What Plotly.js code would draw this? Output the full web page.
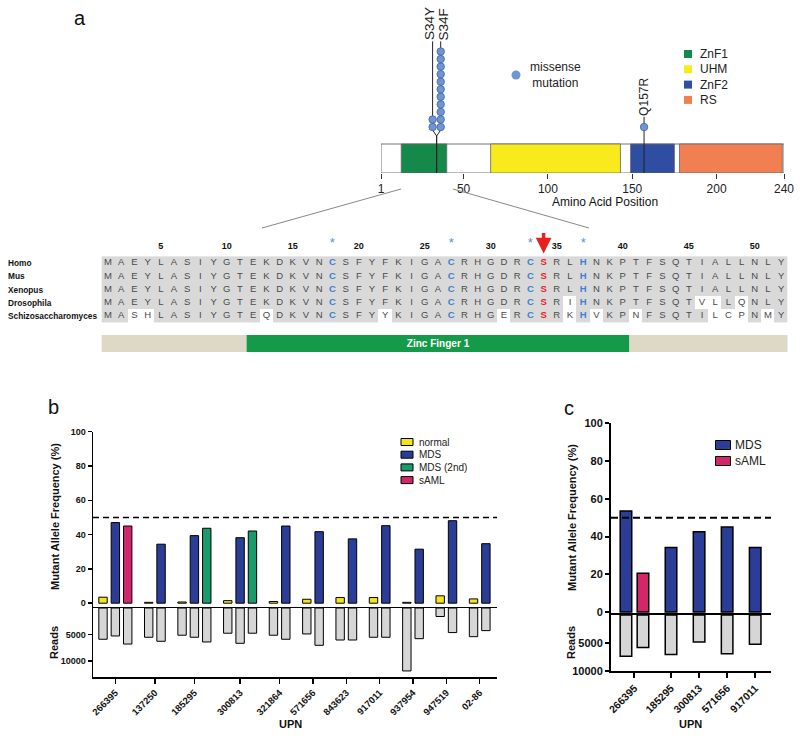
<!DOCTYPE html>
<html><head><meta charset="utf-8">
<script src="https://cdn.plot.ly/plotly-3.0.1.min.js"></script>
<style>html,body{margin:0;padding:0;background:#fff}#chart{width:800px;height:738px}</style>
</head><body><div id="chart"></div>
<script>
// ================= DATA =================
// Panel a: protein domains
const domainNames = ['ZnF1', 'UHM', 'ZnF2', 'RS'];
const domainStart = [13, 66, 149, 178];
const domainEnd = [40, 143, 175, 239];
const proteinStart = 1, proteinEnd = 240;
const aaTicks = [1, 50, 100, 150, 200, 240];
// Panel a: missense mutations
const mutLabels = ['S34Y', 'S34F', 'Q157R'];
const mutPos = [34, 34, 157];
const mutCount = [2, 11, 1];
// Panel a: alignment
const species = ['Homo', 'Mus', 'Xenopus', 'Drosophila', 'Schizosaccharomyces'];
const sequences = [
  'MAEYLASIYGTEKDKVNCSFYFKIGACRHGDRCSRLHNKPTFSQTIALLNLY',
  'MAEYLASIYGTEKDKVNCSFYFKIGACRHGDRCSRLHNKPTFSQTIALLNLY',
  'MAEYLASIYGTEKDKVNCSFYFKIGACRHGDRCSRLHNKPTFSQTIALLNLY',
  'MAEYLASIYGTEKDKVNCSFYFKIGACRHGDRCSRIHNKPTFSQTVLLQNLY',
  'MASHLASIYGTEQDKVNCSFYYKIGACRHGERCSRKHVKPNFSQTILCPNMY'
];
const seqTicks = [5, 10, 15, 20, 25, 30, 35, 40, 45, 50];
const zincLigands = [18, 27, 33, 37];
const mutatedResidue = 34;
const zincFinger = [12, 40];
const zincFingerLabel = 'Zinc Finger 1';

// Panel b
const upnB = ['266395', '137250', '185295', '300813', '321864', '571656', '843623', '917011', '937954', '947519', '02-86'];
const seriesB = ['normal', 'MDS', 'MDS (2nd)', 'sAML'];
const mafNormal = [3.5, 0.5, 0.7, 1.5, 1.0, 2.3, 3.3, 3.3, 0.5, 4.3, 2.5];
const mafMDS    = [47.0, 34.4, 39.4, 38.2, 45.0, 41.7, 37.5, 45.2, 31.5, 48.1, 34.7];
const mafMDS2   = [null, null, 43.7, 42.1, null, null, null, null, null, null, null];
const mafSAML   = [45.0, null, null, null, null, null, null, null, null, null, null];
const readsNormal = [5890, 5510, 5130, 4750, 5130, 4890, 6030, 5510, 11860, 1600, 5400];
const readsMDS    = [5270, 6270, 5510, 6650, 5890, 7030, 6030, 5510, 5780, 4630, 4260];
const readsMDS2   = [null, null, 6400, 4750, null, null, null, null, null, null, null];
const readsSAML   = [6790, null, null, null, null, null, null, null, null, null, null];
const readsTicksB = [5000, 10000];

// Panel c
const upnC = ['266395', '185295', '300813', '571656', '917011'];
const seriesC = ['MDS', 'sAML'];
const mafC_MDS  = [53.5, 34.2, 42.5, 45.0, 34.2];
const mafC_SAML = [20.5, null, null, null, null];
const readsC_MDS  = [7350, 7050, 4820, 6900, 5230];
const readsC_SAML = [5800, null, null, null, null];
const readsTicksC = [5000, 10000];

const mafTicks = [0, 20, 40, 60, 80, 100];
const threshold = 50;

// ================= STYLE =================
const FONT = 'Liberation Sans, Arial, Helvetica, sans-serif';
const W = 800, H = 738;
const px = v => v / W, py = v => 1 - v / H;
const domainColors = ['#14894a', '#f8ea1d', '#2f4ea3', '#f27f52'];
const seriesColors = {'normal': '#f4e51b', 'MDS': '#2b3d97', 'MDS (2nd)': '#1a9b6a', 'sAML': '#d3276b'};
const readsColor = '#d6d6d6';
const mutColor = '#6f95d2';
const ligandColor = '#3f7fd0';
const redColor = '#e8211d';

const traces = [];
const shapes = [];
const annotations = [];

// ---------- helper: group bar positions ----------
function layoutGroups(seriesList, gap) {
  const n = seriesList[0].length;
  const pos = seriesList.map(() => new Array(n).fill(null));
  const centers = [];
  let p = 0;
  for (let i = 0; i < n; i++) {
    const start = p;
    seriesList.forEach((s, k) => { if (s[i] !== null) { pos[k][i] = p; p += 1; } });
    centers.push((start + p - 1) / 2);
    p += gap;
  }
  return {pos, centers};
}

function addBars(mafList, readsList, names, groups, xa, ya, xa2, ya2, lw) {
  mafList.forEach((vals, k) => {
    const xs = [], ys = [], rs = [];
    vals.forEach((v, i) => { if (v !== null) { xs.push(groups.pos[k][i]); ys.push(v); rs.push(readsList[k][i]); } });
    traces.push({type: 'bar', x: xs, y: ys, width: 0.68, xaxis: xa, yaxis: ya, showlegend: false,
      marker: {color: seriesColors[names[k]], line: {color: '#000', width: lw}}});
    traces.push({type: 'bar', x: xs, y: rs, width: 0.68, xaxis: xa2, yaxis: ya2, showlegend: false,
      marker: {color: readsColor, line: {color: '#000', width: lw}}});
  });
}

// ---------- Panel b ----------
const gB = layoutGroups([mafNormal, mafMDS, mafMDS2, mafSAML], 0.7);
addBars([mafNormal, mafMDS, mafMDS2, mafSAML], [readsNormal, readsMDS, readsMDS2, readsSAML], seriesB, gB, 'x', 'y', 'x2', 'y2', 1);

// ---------- Panel c ----------
const gC = layoutGroups([mafC_MDS, mafC_SAML], 0.65);
addBars([mafC_MDS, mafC_SAML], [readsC_MDS, readsC_SAML], seriesC, gC, 'x3', 'y3', 'x4', 'y4', 1.5);

// threshold lines
shapes.push({type: 'line', xref: 'x domain', yref: 'y', x0: 0, x1: 1, y0: threshold, y1: threshold, line: {color: '#000', width: 1.5, dash: '6px,4px'}});
shapes.push({type: 'line', xref: 'x3 domain', yref: 'y3', x0: 0, x1: 1, y0: threshold, y1: threshold, line: {color: '#000', width: 2, dash: '7px,4px'}});

// ---------- Panel a: domain diagram ----------
const unit = 7.55;             // px per stacked circle
const boxH = 29 / unit;
const yc = boxH / 2;
traces.push({type: 'bar', orientation: 'h', y: [yc], x: [proteinEnd - proteinStart], base: [proteinStart], width: boxH,
  xaxis: 'x5', yaxis: 'y5', showlegend: false, marker: {color: '#fff', line: {color: '#777', width: 1}}});
traces.push({type: 'bar', orientation: 'h', y: domainNames.map(() => yc), x: domainStart.map((s, i) => domainEnd[i] - s), base: domainStart,
  width: boxH, xaxis: 'x5', yaxis: 'y5', showlegend: false, marker: {color: domainColors, line: {color: '#666', width: 0.8}}});

const forkLow = 4.9, forkHigh = 5.7, firstCircle = 6.09;
mutLabels.forEach((lab, i) => {
  const same = mutPos.map((p, j) => p === mutPos[i] ? j : -1).filter(j => j >= 0);
  const maxC = Math.max(...same.map(j => mutCount[j]));
  const top = firstCircle + maxC - 1 + 1.35;
  let off = 0;
  if (same.length > 1) off = (same.indexOf(i) - (same.length - 1) / 2) * 4.8;
  const lx = off === 0 ? [mutPos[i], mutPos[i]] : [mutPos[i], mutPos[i], mutPos[i] + off, mutPos[i] + off];
  const ly = off === 0 ? [0, top] : [0, forkLow, forkHigh, top];
  traces.push({type: 'scatter', mode: 'lines', x: lx, y: ly, xaxis: 'x5', yaxis: 'y5', showlegend: false,
    line: {color: '#222', width: 1}, cliponaxis: false});
  const cx = [], cy = [];
  for (let k = 0; k < mutCount[i]; k++) { cx.push(mutPos[i] + off); cy.push(firstCircle + k); }
  traces.push({type: 'scatter', mode: 'markers', x: cx, y: cy, xaxis: 'x5', yaxis: 'y5', showlegend: false,
    marker: {size: 7.5, color: mutColor, line: {color: '#44639f', width: 0.8}}, cliponaxis: false});
  annotations.push({xref: 'x5', yref: 'y5', x: mutPos[i] + off, y: top, text: lab, textangle: -90, showarrow: false,
    xshift: Math.sign(off) * 2.5,
    xanchor: 'center', yanchor: 'bottom', font: {family: FONT, size: same.length > 1 ? 13.5 : 12, color: '#222'}, borderpad: 0});
});

// ---------- Panel a: alignment ----------
const zAl = sequences.map(s => s.split('').map((c, j) => c === sequences[0][j] ? 1 : 0));
const colIdx = sequences[0].split('').map((c, j) => j + 1);
traces.push({type: 'heatmap', z: zAl, x: colIdx, y: species.map((s, i) => i), xaxis: 'x6', yaxis: 'y6',
  colorscale: [[0, '#ffffff'], [1, '#d9d9d9']], zmin: 0, zmax: 1, showscale: false, hoverinfo: 'skip'});

const letterSets = {normal: {x: [], y: [], t: []}, blue: {x: [], y: [], t: []}, red: {x: [], y: [], t: []}};
sequences.forEach((s, r) => s.split('').forEach((c, j) => {
  const col = j + 1;
  const key = col === mutatedResidue ? 'red' : (zincLigands.includes(col) ? 'blue' : 'normal');
  letterSets[key].x.push(col); letterSets[key].y.push(r); letterSets[key].t.push(c);
}));
const letterStyle = {normal: {color: '#4a4a4a', weight: 'normal'}, blue: {color: ligandColor, weight: 'bold'}, red: {color: redColor, weight: 'bold'}};
Object.keys(letterSets).forEach(k => {
  traces.push({type: 'scatter', mode: 'text', x: letterSets[k].x, y: letterSets[k].y, text: letterSets[k].t,
    xaxis: 'x6', yaxis: 'y6', showlegend: false, cliponaxis: false, hoverinfo: 'skip',
    textfont: {family: FONT, size: 9.5, color: letterStyle[k].color, weight: letterStyle[k].weight}});
});
// position numbers and stars
traces.push({type: 'scatter', mode: 'text', x: seqTicks, y: seqTicks.map(() => -1.2), text: seqTicks.map(String),
  xaxis: 'x6', yaxis: 'y6', showlegend: false, cliponaxis: false,
  textfont: {family: FONT, size: 9, color: '#111', weight: 'bold'}});
traces.push({type: 'scatter', mode: 'text', x: zincLigands, y: zincLigands.map(() => -1.45), text: zincLigands.map(() => '*'),
  xaxis: 'x6', yaxis: 'y6', showlegend: false, cliponaxis: false,
  textfont: {family: FONT, size: 13, color: '#5a8fd8'}});
annotations.push({xref: 'x6', yref: 'y6', x: mutatedResidue, y: -0.72, ax: 0, ay: -22, showarrow: true,
  arrowhead: 2, arrowsize: 0.9, arrowwidth: 3.5, arrowcolor: redColor, text: ''});
// zinc finger bar
const seqLen = sequences[0].length;
traces.push({type: 'bar', orientation: 'h', y: [6.08, 6.08, 6.08],
  base: [0.5, zincFinger[0] - 0.5, zincFinger[1] + 0.5],
  x: [zincFinger[0] - 1, zincFinger[1] - zincFinger[0] + 1, seqLen - zincFinger[1]],
  width: 1.28, xaxis: 'x6', yaxis: 'y6', showlegend: false,
  marker: {color: ['#ddd9c6', '#149a48', '#ddd9c6'], line: {width: 0}},
  text: ['', zincFingerLabel, ''], textposition: 'inside', insidetextanchor: 'middle',
  textfont: {family: FONT, size: 11, color: '#fff', weight: 'bold'}});
// species labels
species.forEach((s, i) => annotations.push({xref: 'paper', yref: 'y6', x: px(6), y: i, text: s, showarrow: false,
  xanchor: 'left', yanchor: 'middle', font: {family: FONT, size: 8.3, color: '#111', weight: 'bold'}}));

// connectors from domain to alignment
shapes.push({type: 'line', xref: 'paper', yref: 'paper', x0: px(401), y0: py(189), x1: px(262), y1: py(228), line: {color: '#888', width: 1}});
shapes.push({type: 'line', xref: 'paper', yref: 'paper', x0: px(453), y0: py(189), x1: px(589), y1: py(228), line: {color: '#888', width: 1}});

// ---------- legends (manual) ----------
function legendRows(names, colors, x, y0, dy, bw, bh, textX, fs, outline, shape) {
  names.forEach((n, i) => {
    const yy = y0 + i * dy;
    shapes.push({type: shape || 'rect', xref: 'paper', yref: 'paper', x0: px(x - bw / 2), x1: px(x + bw / 2), y0: py(yy - bh / 2), y1: py(yy + bh / 2),
      fillcolor: colors[i], line: {color: outline ? '#000' : colors[i], width: outline ? 1 : 0}});
    annotations.push({xref: 'paper', yref: 'paper', x: px(textX), y: py(yy), text: n, showarrow: false, xanchor: 'left', yanchor: 'middle',
      font: {family: FONT, size: fs, color: '#222'}});
  });
}
legendRows(domainNames, domainColors, 688, 54, 15.3, 8, 8, 698, 12, false);
legendRows(['missense<br>mutation'], [mutColor], 516, 75, 0, 9, 9, 528, 12, false, 'circle');
legendRows(seriesB, seriesB.map(s => seriesColors[s]), 407, 442, 12.7, 12, 7, 417, 10, true);
legendRows(seriesC, seriesC.map(s => seriesColors[s]), 723, 445, 16, 15, 9, 733, 12, true);

// ---------- titles / panel letters ----------
function txt(x, y, t, fs, opts) {
  annotations.push(Object.assign({xref: 'paper', yref: 'paper', x: px(x), y: py(y), text: t, showarrow: false,
    xanchor: 'center', yanchor: 'middle', font: {family: FONT, size: fs, color: '#111'}}, opts || {}));
}
txt(80, 18, 'a', 20);
txt(53, 407, 'b', 20);
txt(569, 408, 'c', 20);
txt(605, 202, 'Amino Acid Position', 12);
const boldF = s => ({family: FONT, size: s, color: '#111', weight: 'bold'});
txt(55, 517, 'Mutant Allele Frequency (%)', 11, {textangle: -90, font: boldF(11)});
txt(54, 643, 'Reads', 11, {textangle: -90, font: boldF(11)});
txt(290, 724, 'UPN', 11, {font: boldF(11)});
txt(572, 518, 'Mutant Allele Frequency (%)', 11, {textangle: -90, font: boldF(11)});
txt(571, 643, 'Reads', 11, {textangle: -90, font: boldF(11)});
txt(690, 724, 'UPN', 11, {font: boldF(11)});

// ---------- axes ----------
const base = {showgrid: false, zeroline: false, color: '#000'};
const yMAF = (fs, lw) => Object.assign({}, base, {showline: true, linewidth: lw, linecolor: '#000', ticks: 'outside', ticklen: 4, tickwidth: lw,
  tickvals: mafTicks, ticktext: mafTicks.map(String), tickfont: {family: FONT, size: fs, color: '#111', weight: 'bold'}});
const yReads = (fs, lw, rng, tv) => Object.assign({}, base, {showline: true, linewidth: lw, linecolor: '#000', ticks: 'outside', ticklen: 4, tickwidth: lw,
  range: rng, tickvals: tv, ticktext: tv.map(String), tickfont: {family: FONT, size: fs, color: '#111', weight: 'bold'}});
const xCat = (fs, lw, rng, dom, centers, labels, anchor) => Object.assign({}, base, {domain: dom, range: rng, anchor: anchor,
  showline: true, mirror: true, linewidth: lw, linecolor: '#000', ticks: 'outside', ticklen: 5, tickwidth: lw,
  tickvals: centers, ticktext: labels, tickangle: -45, tickfont: {family: FONT, size: fs, color: '#111', weight: 'bold'}});

const rangeB = [-0.81, 31.9], domB = [px(93), px(497)];
const rangeC = [-0.88, 8.53], domC = [px(611), px(771)];

const layout = {
  width: W, height: H, margin: {l: 0, r: 0, t: 0, b: 0}, paper_bgcolor: '#fff', plot_bgcolor: 'rgba(0,0,0,0)',
  showlegend: false, hovermode: false, barmode: 'overlay', font: {family: FONT},
  xaxis: Object.assign({}, base, {domain: domB, range: rangeB, anchor: 'y', showticklabels: false, ticks: '', showline: false}),
  yaxis: Object.assign(yMAF(9, 1.5), {domain: [py(608), py(431.7)], range: [-2.8, 100], anchor: 'x'}),
  xaxis2: xCat(9.5, 1.5, rangeB, domB, gB.centers, upnB, 'y2'),
  yaxis2: Object.assign(yReads(9, 1.5, [13000, 0], readsTicksB), {domain: [py(677), py(608)], anchor: 'x2'}),
  xaxis3: Object.assign({}, base, {domain: domC, range: rangeC, anchor: 'y3', showticklabels: false, ticks: '', showline: false}),
  yaxis3: Object.assign(yMAF(11, 2), {domain: [py(615), py(423.3)], range: [-1.6, 100], anchor: 'x3'}),
  xaxis4: xCat(10.5, 2, rangeC, domC, gC.centers, upnC, 'y4'),
  yaxis4: Object.assign(yReads(11, 2, [10000, 0], readsTicksC), {domain: [py(671), py(615)], anchor: 'x4'}),
  xaxis5: Object.assign({}, base, {domain: [px(381), px(784)], range: [proteinStart, proteinEnd], anchor: 'y5', showline: false,
    ticks: 'outside', ticklen: 5, tickcolor: '#333', tickvals: aaTicks, ticktext: aaTicks.map(String), tickfont: {family: FONT, size: 12, color: '#222'}}),
  yaxis5: Object.assign({}, base, {domain: [py(173), 1], range: [0, 173 / unit], anchor: 'x5', visible: false}),
  xaxis6: Object.assign({}, base, {domain: [px(101.4), px(787.8)], range: [0.5, 52.5], anchor: 'y6', visible: false}),
  yaxis6: Object.assign({}, base, {domain: [py(360), py(225)], range: [7.32, -2.87], anchor: 'x6', visible: false}),
  shapes: shapes, annotations: annotations
};

Plotly.newPlot('chart', traces, layout, {displayModeBar: false, staticPlot: true});
</script>
</body></html>
